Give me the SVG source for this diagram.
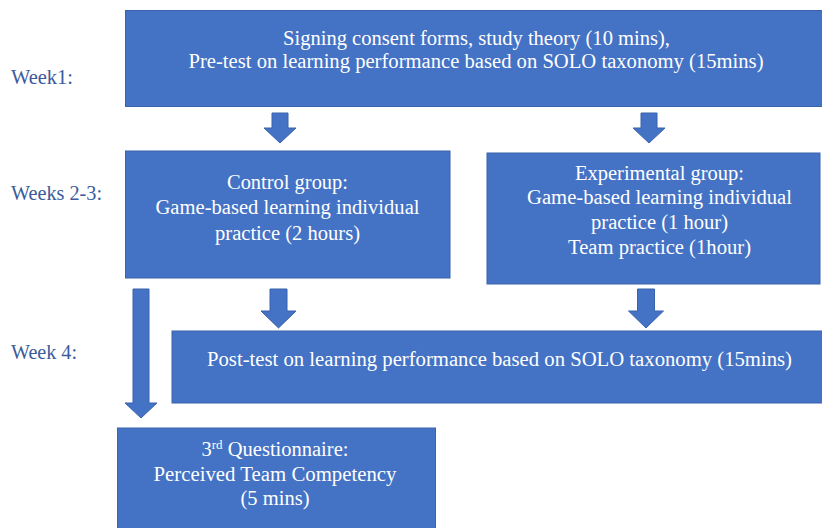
<svg xmlns="http://www.w3.org/2000/svg" width="822" height="528" viewBox="0 0 822 528">
<style>
.box{fill:#4472C4;stroke:#3A63AD;stroke-width:1}
.t{font-family:'Liberation Serif','DejaVu Serif','Times New Roman',serif;font-size:20.5px;fill:#ffffff;text-anchor:middle}
.lbl{font-family:'Liberation Serif','DejaVu Serif','Times New Roman',serif;font-size:20px;fill:#3B5B9C}
.arr{fill:#4472C4;stroke:#3A63AD;stroke-width:1}
</style>
<rect width="822" height="528" fill="#ffffff"/>
<g id="labels">
<text class="lbl" x="11" y="84" textLength="62" lengthAdjust="spacingAndGlyphs">Week1:</text>
<text class="lbl" x="11" y="200" textLength="91" lengthAdjust="spacingAndGlyphs">Weeks 2-3:</text>
<text class="lbl" x="11" y="359" textLength="66" lengthAdjust="spacingAndGlyphs">Week 4:</text>
</g>
<g id="node-week1">
<rect class="box" x="125.5" y="10.5" width="710" height="96"/>
<text class="t" x="476.5" y="45" textLength="387" lengthAdjust="spacingAndGlyphs">Signing consent forms, study theory (10 mins),</text>
<text class="t" x="476" y="68" textLength="575" lengthAdjust="spacingAndGlyphs">Pre-test on learning performance based on SOLO taxonomy (15mins)</text>
</g>
<g id="node-control">
<rect class="box" x="125.5" y="151" width="324.5" height="127"/>
<text class="t" x="287.5" y="189" textLength="121" lengthAdjust="spacingAndGlyphs">Control group:</text>
<text class="t" x="287.5" y="214" textLength="264" lengthAdjust="spacingAndGlyphs">Game-based learning individual</text>
<text class="t" x="287.5" y="240" textLength="145" lengthAdjust="spacingAndGlyphs">practice (2 hours)</text>
</g>
<g id="node-experimental">
<rect class="box" x="487" y="153" width="333" height="131"/>
<text class="t" x="659.5" y="180" textLength="169" lengthAdjust="spacingAndGlyphs">Experimental group:</text>
<text class="t" x="659.5" y="204" textLength="265" lengthAdjust="spacingAndGlyphs">Game-based learning individual</text>
<text class="t" x="659.5" y="229" textLength="137" lengthAdjust="spacingAndGlyphs">practice (1 hour)</text>
<text class="t" x="659.5" y="254" textLength="183" lengthAdjust="spacingAndGlyphs">Team practice (1hour)</text>
</g>
<g id="node-posttest">
<rect class="box" x="172" y="331" width="660" height="72"/>
<text class="t" x="499.5" y="366" textLength="585" lengthAdjust="spacingAndGlyphs">Post-test on learning performance based on SOLO taxonomy (15mins)</text>
</g>
<g id="node-questionnaire">
<rect class="box" x="117.5" y="428" width="318" height="110"/>
<text class="t" x="275" y="456">3<tspan font-size="13" dy="-7">rd</tspan><tspan dy="7"> Questionnaire:</tspan></text>
<text class="t" x="275" y="481" textLength="243" lengthAdjust="spacingAndGlyphs">Perceived Team Competency</text>
<text class="t" x="275" y="505" textLength="69" lengthAdjust="spacingAndGlyphs">(5 mins)</text>
</g>
<g id="connectors">
<polygon class="arr" points="272,113 288,113 288,128 296,128 280,143 264,128 272,128"/>
<polygon class="arr" points="641,113 657,113 657,128 665,128 649,143 633,128 641,128"/>
<polygon class="arr" points="133,289 149,289 149,403 157,403 141,418 125,403 133,403"/>
<polygon class="arr" points="270,289 287,289 287,311 296,311 278.5,328 261,311 270,311"/>
<polygon class="arr" points="637.5,289 654.5,289 654.5,311 663.5,311 646,328 628.5,311 637.5,311"/>
</g>
</svg>
